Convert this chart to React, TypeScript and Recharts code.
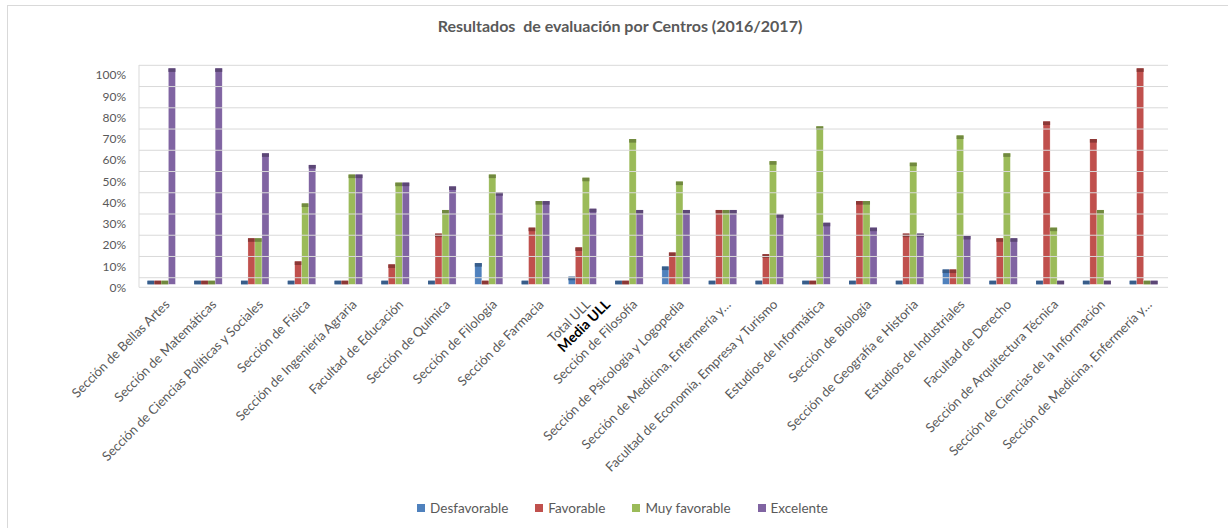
import React from 'react'
import { Bar, BarChart, ReferenceLine, XAxis, YAxis } from 'recharts'

const categories = [
  'Sección de Bellas Artes',
  'Sección de Matemáticas',
  'Sección de Ciencias Políticas y Sociales',
  'Sección de Física',
  'Sección de Ingeniería Agraria',
  'Facultad de Educación',
  'Sección de Química',
  'Sección de Filología',
  'Sección de Farmacia',
  'Total ULL',
  'Sección de Filosofía',
  'Sección de Psicología y Logopedia',
  'Sección de Medicina, Enfermería y…',
  'Facultad de Economía, Empresa y Turismo',
  'Estudios de Informática',
  'Sección de Biología',
  'Sección de Geografía e Historia',
  'Estudios de Industriales',
  'Facultad de Derecho',
  'Sección de Arquitectura Técnica',
  'Sección de Ciencias de la Información',
  'Sección de Medicina, Enfermería y… ',
]

const desfavorable = [0, 0, 0, 0, 0, 0, 0, 8.3, 0, 1.9, 0, 6.7, 0, 0, 0, 0, 0, 5.3, 0, 0, 0, 0]
const favorable = [0, 0, 20, 9.1, 0, 7.7, 22.2, 0, 25, 15.7, 0, 13.3, 33.3, 12.5, 0, 37.5, 22.2, 5.3, 20, 75, 66.7, 100]
const muyFavorable = [0, 0, 20, 36.4, 50, 46.2, 33.3, 50, 37.5, 48.5, 66.7, 46.7, 33.3, 56.3, 72.7, 37.5, 55.6, 68.4, 60, 25, 33.3, 0]
const excelente = [100, 100, 60, 54.5, 50, 46.2, 44.4, 41.7, 37.5, 33.9, 33.3, 33.3, 33.3, 31.3, 27.3, 25, 22.2, 21.1, 20, 0, 0, 0]

const yTicks = [0, 10, 20, 30, 40, 50, 60, 70, 80, 90, 100]
// back-wall gridlines sit a little above the tick values (3D look of the original)
const gridValues = [3.1, 13.1, 23.1, 33.1, 43.1, 53.1, 63.1, 73.1, 83.1, 93.1, 103.1]

const series = [
  { key: 'desfavorable', name: 'Desfavorable', color: '#4f81bd', top: '#385d8a' },
  { key: 'favorable', name: 'Favorable', color: '#c0504d', top: '#8c3836' },
  { key: 'muyFavorable', name: 'Muy favorable', color: '#9bbb59', top: '#71893f' },
  { key: 'excelente', name: 'Excelente', color: '#8064a2', top: '#5c4776' },
]

const data = categories.map((name, i) => ({
  name,
  desfavorable: desfavorable[i],
  favorable: favorable[i],
  muyFavorable: muyFavorable[i],
  excelente: excelente[i],
}))

const FONT = 'Lato, "Noto Sans", sans-serif'
const TEXT = '#595959'
const TOP_H = 3.6

function Bar3D(props: any) {
  const { x, y, width, height, fill, top } = props
  if (x == null || y == null) return null
  return (
    <g>
      <rect x={x} y={y - TOP_H} width={width} height={Math.max(height, 0) + TOP_H} fill={fill} stroke="#ffffff" strokeOpacity={0.5} strokeWidth={0.5} />
      <rect x={x} y={y - TOP_H} width={width} height={TOP_H} fill={top} />
    </g>
  )
}

function XTick({ x, y, payload }: any) {
  const label = String(payload.value).trim()
  return (
    <g transform={`translate(${x + 8},${y + 18})`}>
      <text transform="rotate(-45)" textAnchor="end" fill={TEXT} fontSize={13} fontFamily={FONT}>
        {label}
      </text>
      {label === 'Total ULL' && (
        <text transform="rotate(-45)" x={14} y={14} textAnchor="end" fill="#000" fontSize={14} fontWeight="bold" fontFamily={FONT}>
          Media ULL
        </text>
      )}
    </g>
  )
}

function YTick({ x, y, payload }: any) {
  return (
    <text x={x} y={y} dy={7.5} textAnchor="end" fill={TEXT} fontSize={12} fontFamily={FONT}>
      {payload.value}%
    </text>
  )
}

export default function App() {
  return (
    <div style={{ position: 'fixed', left: 0, top: 0, width: 1228, height: 528, overflow: 'hidden', background: '#fff', fontFamily: FONT }}>
      <div style={{ position: 'absolute', left: 7, top: 5, width: 1400, height: 700, border: '1px solid #d9d9d9' }} />
      <div style={{ position: 'absolute', left: 0, top: 16, width: 1240, textAlign: 'center', whiteSpace: 'pre', fontSize: 16, fontWeight: 'bold', color: TEXT }}>
        Resultados  de evaluación por Centros (2016/2017)
      </div>
      <div style={{ position: 'absolute', left: 0, top: 0 }}>
        <BarChart width={1228} height={528} data={data} margin={{ top: 65, right: 60, bottom: 140.7, left: 79 }} barCategoryGap="18%" barGap={0}>
          {gridValues.map((v) => (
            <ReferenceLine key={v} y={v} stroke="#d9d9d9" strokeWidth={1} />
          ))}
          <XAxis dataKey="name" interval={0} height={100} tickSize={0} tickMargin={0} axisLine={{ stroke: '#d9d9d9' }} tickLine={false} tick={<XTick />} />
          <YAxis
            width={60}
            domain={[-1.41, 103.25]}
            allowDataOverflow
            ticks={yTicks}
            interval={0}
            tickSize={0}
            tickMargin={13}
            tickLine={false}
            axisLine={{ stroke: '#d9d9d9' }}
            tick={<YTick />}
          />
          {series.map((s) => (
            <Bar key={s.key} dataKey={s.key} name={s.name} fill={s.color} isAnimationActive={false} shape={(p: any) => <Bar3D {...p} top={s.top} />} />
          ))}
        </BarChart>
      </div>
      <div style={{ position: 'absolute', left: 0, top: 500, width: 1245, display: 'flex', justifyContent: 'center', gap: 27, fontSize: 13.5, color: TEXT }}>
        {series.map((s) => (
          <div key={s.key} style={{ display: 'flex', alignItems: 'center', gap: 5 }}>
            <span style={{ width: 8, height: 8, background: s.color, display: 'inline-block' }} />
            <span>{s.name}</span>
          </div>
        ))}
      </div>
    </div>
  )
}
